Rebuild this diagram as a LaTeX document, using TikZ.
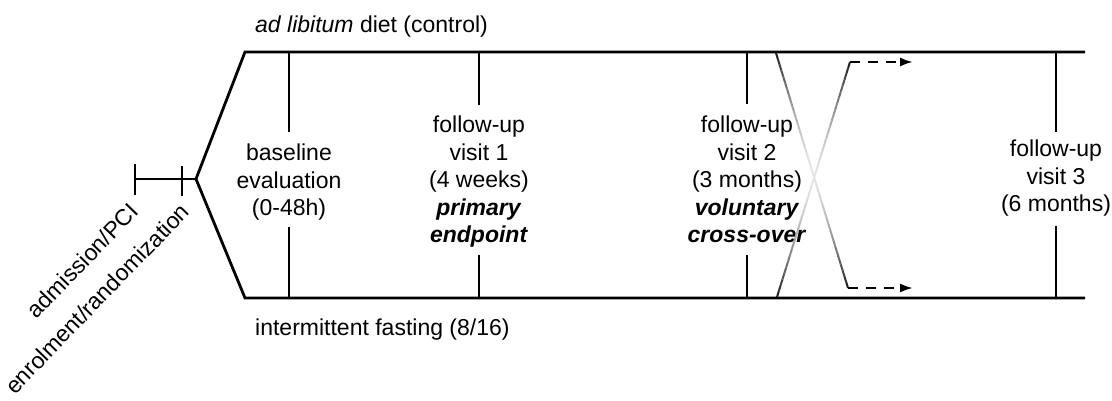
\documentclass[tikz,border=0pt]{standalone}
\usepackage{fontspec}
\setmainfont{Liberation Sans}
\usetikzlibrary{calc,arrows.meta}
\begin{document}
\begin{tikzpicture}[x=1pt,y=-1pt,
  arm/.style={line width=2.8pt, line join=miter},
  tickmark/.style={line width=2.5pt},
  vis/.style={line width=2.4pt},
  lbl/.style={font=\fontsize{23}{27.5}\selectfont, align=center, inner sep=0pt, anchor=north},
  arml/.style={font=\fontsize{23}{27.5}\selectfont, inner sep=0pt},
  xline/.style={line width=2pt},
  dsh/.style={line width=2.2pt, dash pattern=on 10pt off 8pt, -{Latex[length=13pt,width=9pt]}}
]
\useasboundingbox[fill=white] (0,0) rectangle (1112,401);

% main frame coordinates
\coordinate (adm) at (135,179);
\coordinate (enr) at (182,179);
\coordinate (branch) at (196,179);
\coordinate (tl) at (245,52);
\coordinate (bl) at (245,298);
\coordinate (tr) at (1085,52);
\coordinate (br) at (1085,298);

\draw[arm] (tr) -- (tl) -- (branch) -- (bl) -- (br);
\draw[arm] (adm) -- (branch);
\draw[tickmark] ($(adm)+(0,-15)$) -- ($(adm)+(0,16)$);
\draw[tickmark] ($(enr)+(0,-13)$) -- ($(enr)+(0,17)$);

% rotated labels
\node[arml, rotate=46, anchor=base east] (admlbl) at (140,213) {admission/PCI};
\node[arml, rotate=46, anchor=base east] (enrlbl) at (191,213) {enrolment/randomization};

% arm labels
\node[arml, anchor=base west] (ctrl) at (255,33) {\textit{ad libitum} diet (control)};
\node[arml, anchor=base west] (ifast) at (255,335) {intermittent fasting (8/16)};

% visit labels
\node[lbl] (v0) at (289,144) {baseline\\evaluation\\(0-48h)};
\node[lbl] (v1) at (479,116) {follow-up\\visit 1\\(4 weeks)\\\textbf{\textit{primary}}\\\textbf{\textit{endpoint}}};
\node[lbl] (v2) at (747,116) {follow-up\\visit 2\\(3 months)\\\textbf{\textit{voluntary}}\\\textbf{\textit{cross-over}}};
\node[lbl] (v3) at (1056,140) {follow-up\\visit 3\\(6 months)};

% visit verticals
\coordinate (v0t) at (289,52);  \coordinate (v0a) at (289,132);
\coordinate (v0b) at (289,227); \coordinate (v0d) at (289,298);
\coordinate (v1t) at (479,52);  \coordinate (v1a) at (479,105);
\coordinate (v1b) at (479,255); \coordinate (v1d) at (479,298);
\coordinate (v2t) at (747,52);  \coordinate (v2a) at (747,104);
\coordinate (v2b) at (747,255); \coordinate (v2d) at (747,298);
\coordinate (v3t) at (1056,52);  \coordinate (v3a) at (1056,132);
\coordinate (v3b) at (1056,226); \coordinate (v3d) at (1056,298);
\foreach \v in {v0,v1,v2,v3}{
  \draw[vis] (\v t) -- (\v a);
  \draw[vis] (\v b) -- (\v d);
}

% cross-over lines with fading
\coordinate (x1s) at (776,53);
\coordinate (x1e) at (848,288);
\coordinate (x2s) at (777,297);
\coordinate (x2e) at (850,62);
\coordinate (a1) at (913,288);
\coordinate (a2) at (913,62);
\foreach \i in {0,...,39}{
  \pgfmathsetmacro\ta{\i/40}
  \pgfmathsetmacro\tb{(\i+1)/40}
  \pgfmathsetmacro\dk{10+80*abs(2*(\i+0.5)/40-1)^1.7}
  \draw[xline, draw=black!\dk] ($(x1s)!\ta!(x1e)$) -- ($(x1s)!\tb!(x1e)$);
  \draw[xline, draw=black!\dk] ($(x2s)!\ta!(x2e)$) -- ($(x2s)!\tb!(x2e)$);
}
\draw[dsh] (x1e) -- (a1);
\draw[dsh] (x2e) -- (a2);
\end{tikzpicture}
\end{document}
